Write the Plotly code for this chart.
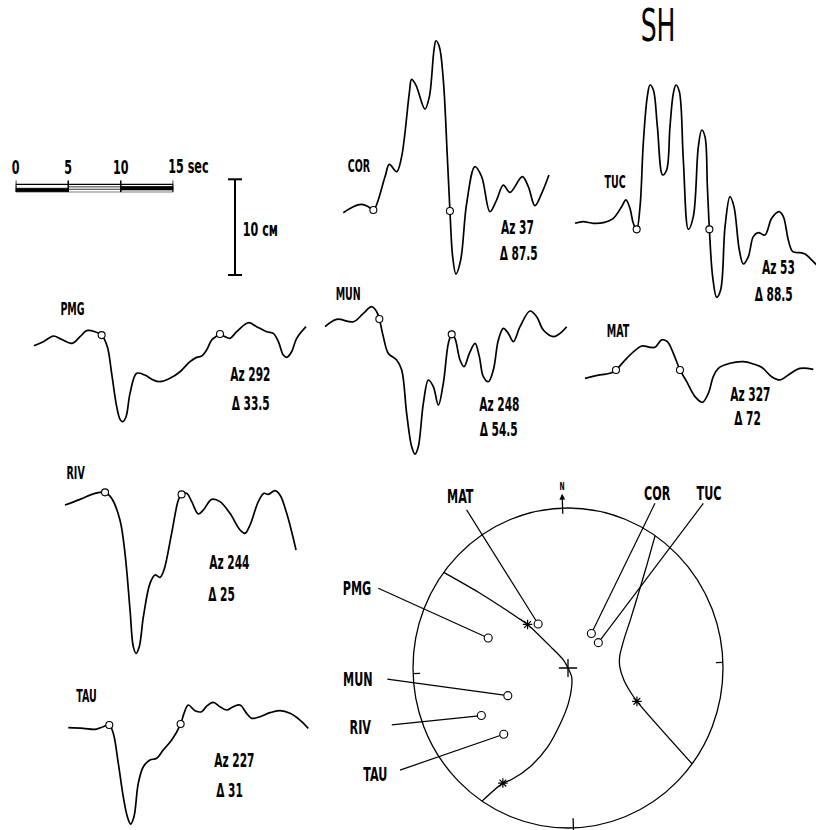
import numpy as np
import plotly.graph_objects as go

W, H = 816, 830
PX_PER_SEC = 157.6 / 15.0   # length of the 15 s time bar
PX_PER_CM = 95.7 / 10.0     # length of the 10 cm amplitude bar

FONT = "DejaVu Sans Condensed, Liberation Sans Narrow, DejaVu Sans, sans-serif"
INK = "black"
TEXT_SQUEEZE = 0.62         # narrow lettering: horizontal compression of all text

# ---------------------------------------------------------------- data
stations = ["COR", "TUC", "PMG", "MUN", "MAT", "RIV", "TAU"]
azimuth = [37, 53, 292, 248, 327, 244, 227]          # degrees
delta = [87.5, 88.5, 33.5, 54.5, 72, 25, 31]          # epicentral distance, degrees
proj_radius = [0.263, 0.252, 0.548, 0.425, 0.336, 0.633, 0.586]  # radius on focal sphere

# SH seismograms: time (s) and amplitude (cm); *_marks are picked times (open circles)
cor_t = [0, 0.95, 1.74, 2.38, 2.86, 3.97, 4.38, 5.08, 5.55, 6.28, 6.50, 6.91, 7.77, 8.19, 8.63,
         8.82, 9.14, 9.52, 9.90, 10.15, 10.41, 10.72, 11.17, 11.74, 12.53, 13.17, 13.96, 14.59,
         15.23, 15.86, 17.04, 17.61, 18.24, 18.88, 19.57]
cor_a = [0, 0.63, 0.87, 0.63, 0.28, 3.76, 5.05, 4.28, 5.85, 12.47, 13.93, 13.34, 10.83, 12.12,
         17.00, 17.97, 17.35, 13.86, 5.85, 0.17, -4.60, -6.41, -4.95, 0.98, 4.81, 3.76, 0.10,
         1.32, 2.89, 2.12, 3.76, 2.72, 0.73, 2.02, 3.94]
cor_marks = [2.86, 10.15]

tuc_t = [0, 0.79, 1.74, 2.70, 3.65, 4.44, 4.85, 5.23, 5.55, 5.87, 6.19, 6.50, 6.88, 7.14, 7.46,
         7.84, 8.34, 8.72, 9.04, 9.36, 9.61, 9.93, 10.31, 10.79, 11.26, 11.74, 12.06, 12.37,
         12.60, 12.79, 13.10, 13.48, 13.86, 14.28, 14.75, 15.13, 15.64, 16.02, 16.50, 16.97,
         17.45, 18.08, 18.72, 19.42, 19.83, 20.30, 20.72, 21.42, 21.89, 22.37, 23.00]
tuc_a = [0, 0.17, 0, 0.07, 0.52, 1.74, 2.44, 1.57, 0, -0.63, 1.74, 8.36, 13.24, 14.45, 13.93,
         10.10, 5.05, 5.57, 10.10, 13.58, 14.45, 13.76, 6.62, -0.63, 0.70, 8.01, 9.75, 9.06,
         3.83, -0.63, -5.57, -7.73, -6.97, -0.35, 2.79, 1.74, -2.79, -4.25, -3.48, -1.39,
         -0.98, -1.22, 0.52, 1.22, 0.70, -1.74, -2.96, -3.07, -3.20, -3.66, -4.35]
tuc_marks = [5.87, 12.79]

pmg_t = [0, 0.89, 1.84, 2.63, 3.59, 4.38, 5.01, 5.81, 6.44, 6.98, 7.39, 7.87, 8.19, 8.44, 8.76,
         9.14, 9.77, 10.56, 11.36, 11.99, 12.94, 13.90, 14.85, 15.48, 15.96, 16.43, 16.91,
         17.39, 17.70, 18.18, 18.65, 19.29, 20.40, 21.19, 22.14, 22.78, 23.26, 23.73, 24.05,
         24.52, 25.00, 25.89]
pmg_a = [0, 0.42, 1.01, 0.66, 0.24, 0.94, 1.57, 1.46, 1.11, -0.10, -2.89, -6.37, -7.70, -7.94,
         -7.42, -4.98, -2.89, -3.07, -3.59, -3.76, -3.41, -2.72, -1.67, -1.22, -1.08, -0.45,
         0.59, 1.01, 1.22, 0.94, 0.77, 1.46, 2.40, 1.99, 1.46, 1.29, 0.42, -0.98, -1.22,
         -0.63, 0.77, 1.99]
pmg_marks = [6.44, 17.70]

mun_t = [0, 1.11, 2.70, 3.65, 4.44, 4.92, 5.17, 5.55, 6.03, 6.82, 7.30, 7.77, 8.25, 8.57, 8.88,
         9.36, 9.84, 10.31, 10.79, 11.26, 11.74, 12.06, 12.37, 12.85, 13.23, 13.74, 14.28,
         14.69, 15.07, 15.55, 16.02, 16.50, 16.97, 17.45, 17.93, 18.56, 19.51, 20.15, 20.78,
         21.73, 22.37, 23.00]
mun_a = [0, 0.77, 0.52, 1.39, 2.09, 1.57, 0.80, -1.04, -2.79, -3.48, -4.53, -9.06, -12.54,
         -13.31, -12.54, -8.01, -5.57, -6.27, -8.19, -5.92, -1.74, -0.80, -1.22, -3.48, -4.18,
         -2.79, -1.74, -3.13, -5.22, -5.75, -4.53, -1.39, -0.17, -0.70, -1.57, 0, 1.64, 1.04,
         -0.35, -1.04, -0.70, 0]
mun_marks = [5.17, 12.06]

mat_t = [0, 1.43, 2.38, 2.95, 3.97, 5.39, 6.19, 6.66, 7.30, 7.84, 8.41, 9.04, 9.68, 10.47,
         11.17, 11.74, 12.21, 12.69, 13.80, 15.07, 16.02, 16.81, 17.77, 18.56, 19.35, 20.46,
         21.73]
mat_a = [0, 0.35, 0.52, 0.87, 2.09, 3.38, 3.24, 3.24, 4.01, 3.83, 2.61, 0.87, -0.35, -1.92,
         -2.51, -1.57, 0.17, 1.04, 1.57, 1.74, 1.50, 1.15, 0.17, -0.17, 0.35, 1.04, 0.94]
mat_marks = [2.95, 9.04]

riv_t = [0, 1.43, 2.86, 3.81, 4.44, 5.23, 5.71, 6.19, 6.50, 6.76, 7.07, 7.46, 8.09, 8.57, 9.04,
         9.42, 10.15, 10.79, 11.10, 11.58, 12.06, 12.69, 13.17, 13.96, 14.75, 15.70, 16.66,
         17.13, 17.61, 18.40, 18.94, 19.35, 19.99, 20.46, 21.10, 21.99]
riv_a = [0, 0.59, 1.22, 1.32, 0.70, -1.57, -5.05, -10.97, -14.80, -15.50, -14.80, -11.67,
         -8.19, -7.31, -7.56, -6.79, -2.96, 0.52, 1.11, 1.22, 0.35, -0.94, -0.52, 0.59, 0.35,
         -0.87, -2.61, -2.96, -2.09, 0.35, 1.22, 1.11, 1.50, 1.04, -0.87, -4.70]
riv_marks = [3.81, 11.10]

tau_t = [0, 1.43, 2.54, 3.33, 3.90, 4.28, 4.76, 5.23, 5.62, 5.93, 6.25, 6.66, 7.14, 7.77, 8.41,
         9.04, 9.84, 10.69, 11.01, 11.42, 12.06, 12.69, 13.17, 13.80, 14.44, 15.07, 15.70,
         16.34, 16.97, 17.45, 18.24, 19.19, 20.15, 21.10, 22.05, 22.84]
tau_a = [0, -0.07, -0.17, 0.10, 0.28, -0.59, -3.73, -7.21, -9.30, -10.07, -9.30, -5.82, -4.08,
         -3.38, -3.20, -2.33, -1.29, 0.38, 1.50, 2.37, 1.78, 1.67, 2.26, 2.65, 2.19, 1.85,
         2.19, 2.37, 1.50, 0.98, 1.15, 1.57, 1.78, 1.50, 0.80, -0.07]
tau_marks = [3.90, 10.69]

waveforms = {
    "COR": (cor_t, cor_a, cor_marks),
    "TUC": (tuc_t, tuc_a, tuc_marks),
    "PMG": (pmg_t, pmg_a, pmg_marks),
    "MUN": (mun_t, mun_a, mun_marks),
    "MAT": (mat_t, mat_a, mat_marks),
    "RIV": (riv_t, riv_a, riv_marks),
    "TAU": (tau_t, tau_a, tau_marks),
}

# SH nodal lines on the focal sphere: azimuth (deg) and projected radius
nodal_a_az = [308.7, 311.3, 316.1, 318.2, 321.8, 331.6, 0, 158.9, 170.8, 181.5, 190.2, 197.1,
              203.4, 209.7, 212.3, 215.7]
nodal_a_r = [1.0, 0.747, 0.452, 0.377, 0.177, 0.059, 0.0, 0.060, 0.121, 0.223, 0.354, 0.516,
             0.659, 0.789, 0.833, 1.0]
nodal_b_az = [36.2, 40.4, 46.0, 55.0, 65.8, 79.9, 90.6, 103.9, 112.4, 117.1, 128.8]
nodal_b_r = [1.0, 0.818, 0.657, 0.505, 0.402, 0.341, 0.334, 0.369, 0.430, 0.491, 1.0]
axis_pt_az = [318.2, 212.3, 117.1]     # asterisks on the nodal lines
axis_pt_r = [0.377, 0.833, 0.491]

time_ticks = [0, 5, 10, 15]
time_unit = "sec"
amp_bar = [0, 10]

# ---------------------------------------------------------------- page layout (pixels)
PANEL_ORIGIN = {"COR": (343.3, 212.7), "TUC": (575.0, 223.3), "PMG": (34.0, 345.7),
                "MUN": (325.0, 326.7), "MAT": (585.0, 378.3), "RIV": (65.0, 505.0),
                "TAU": (68.3, 727.7)}
PANEL_LABEL = {"COR": (359, 165.5), "TUC": (614.5, 181.7), "PMG": (72, 309),
               "MUN": (347.5, 294), "MAT": (618.3, 331), "RIV": (75.8, 472.5),
               "TAU": (86.7, 696)}
# centres of the "Az" and "Δ" lines
PANEL_NOTE = {"COR": (517.3, 226.7, 518.0, 252.5), "TUC": (778.5, 266.7, 773.0, 294),
              "PMG": (250.0, 374, 250.8, 402.5), "MUN": (499.2, 404, 498.3, 429),
              "MAT": (750.8, 394, 747.5, 418), "RIV": (229.5, 561.7, 221.7, 594),
              "TAU": (235.0, 760, 229.5, 790)}
SPHERE_CENTER = (568.0, 668.0)
SPHERE_RX, SPHERE_RY = 155.0, 160.0
NORTH_TILT = -2.0
SPHERE_LABEL = {"MAT": (460.7, 496), "COR": (656.7, 492.5), "TUC": (708.8, 492.5),
                "PMG": (356.7, 587.5), "MUN": (358, 679), "RIV": (360.5, 727),
                "TAU": (375.8, 774)}
LEADER_START = {"MAT": (-0.654, 0.988), "COR": (0.561, 1.029), "TUC": (0.873, 1.029),
                "PMG": (-1.224, 0.498), "MUN": (-1.166, -0.069), "RIV": (-1.137, -0.356),
                "TAU": (-1.084, -0.638)}


def paper(px, py):
    return px / W, 1 - py / H


def label(px, py, text, size, bold=True):
    x, y = paper(px, py)
    return dict(x=x, y=y, xref="paper", yref="paper", text=text, showarrow=False,
                xanchor="center", yanchor="middle",
                font=dict(family=FONT, size=size, color=INK,
                          weight="bold" if bold else "normal"))


layout_axes = {}


def add_axes(n, ox, oy, sx, sy):
    """Full-page overlay axes whose origin sits at pixel (ox, oy)."""
    key = "" if n == 1 else str(n)
    xa = dict(range=[-ox / sx, (W - ox) / sx], visible=False, showgrid=False, zeroline=False,
              automargin=False)
    ya = dict(range=[-(H - oy) / sy, oy / sy], visible=False, showgrid=False, zeroline=False,
              automargin=False)
    if n > 1:
        xa["overlaying"] = "x"
        ya["overlaying"] = "y"
        xa["anchor"] = "y" + key
        ya["anchor"] = "x" + key
    layout_axes["xaxis" + key] = xa
    layout_axes["yaxis" + key] = ya
    return "x" + key, "y" + key


fig = go.Figure()
annotations = []

# ---------------------------------------------------------------- seismograms
for i, name in enumerate(stations):
    t, a, marks = waveforms[name]
    xr, yr = add_axes(i + 1, *PANEL_ORIGIN[name], PX_PER_SEC, PX_PER_CM)
    fig.add_trace(go.Scatter(x=t, y=a, xaxis=xr, yaxis=yr, mode="lines",
                             line=dict(color=INK, width=1.7, shape="spline", smoothing=1.0),
                             hoverinfo="skip"))
    fig.add_trace(go.Scatter(x=marks, y=np.interp(marks, t, a), xaxis=xr, yaxis=yr,
                             mode="markers", hoverinfo="skip",
                             marker=dict(symbol="circle", size=7, color="white",
                                         line=dict(color=INK, width=1.1))))
    annotations.append(label(*PANEL_LABEL[name], name, 17))
    xa_, ya_, xd_, yd_ = PANEL_NOTE[name]
    annotations.append(label(xa_, ya_, f"Az {azimuth[i]}", 19))
    annotations.append(label(xd_, yd_, f"\u0394 {delta[i]:g}", 19))

# ---------------------------------------------------------------- focal sphere
sx_, sy_ = add_axes(9, *SPHERE_CENTER, SPHERE_RX, SPHERE_RY)


def project(az, r):
    ang = np.radians(np.asarray(az, float) + NORTH_TILT)
    r = np.asarray(r, float)
    return r * np.sin(ang), r * np.cos(ang)


shapes = [dict(type="circle", xref=sx_, yref=sy_, x0=-1, y0=-1, x1=1, y1=1,
               line=dict(color=INK, width=1.3))]

for az_list, r_list in ((nodal_a_az, nodal_a_r), (nodal_b_az, nodal_b_r)):
    ex, ny = project(az_list, r_list)
    fig.add_trace(go.Scatter(x=ex, y=ny, xaxis=sx_, yaxis=sy_, mode="lines", hoverinfo="skip",
                             line=dict(color=INK, width=1.3, shape="spline", smoothing=0.8)))

ex, ny = project(axis_pt_az, axis_pt_r)
fig.add_trace(go.Scatter(x=ex, y=ny, xaxis=sx_, yaxis=sy_, mode="markers", hoverinfo="skip",
                         marker=dict(symbol="asterisk-open", size=8, color=INK,
                                     line=dict(color=INK, width=1.2))))
fig.add_trace(go.Scatter(x=[0], y=[0], xaxis=sx_, yaxis=sy_, mode="markers", hoverinfo="skip",
                         marker=dict(symbol="cross-thin-open", size=13, color=INK,
                                     line=dict(color=INK, width=1.3))))

# rim ticks (E, S, W) and north arrow
for az_t, r0, r1 in ((90, 0.955, 1.0), (180, 0.94, 1.03), (270, 0.955, 1.0)):
    ex, ny = project([az_t, az_t], [r0, r1])
    fig.add_trace(go.Scatter(x=ex, y=ny, xaxis=sx_, yaxis=sy_, mode="lines", hoverinfo="skip",
                             line=dict(color=INK, width=1.3)))
(tx0, tx1), (ty0, ty1) = project([0, 0], [0.955, 1.09])
annotations.append(dict(x=tx1, y=ty1, ax=tx0, ay=ty0, xref=sx_, yref=sy_, axref=sx_, ayref=sy_,
                        text="", showarrow=True, arrowhead=2, arrowsize=0.9, arrowwidth=1.3,
                        arrowcolor=INK, standoff=0, startstandoff=0))
(nx_,), (ny_,) = project([0], [1.135])
annotations.append(dict(x=nx_, y=ny_, xref=sx_, yref=sy_, text="N", showarrow=False,
                        font=dict(family=FONT, size=11, color=INK, weight="bold")))

# stations with leader lines to their labels
st_x, st_y = project(azimuth, proj_radius)
for i, name in enumerate(stations):
    u0, v0 = LEADER_START[name]
    fig.add_trace(go.Scatter(x=[u0, st_x[i]], y=[v0, st_y[i]], xaxis=sx_, yaxis=sy_,
                             mode="lines", hoverinfo="skip",
                             line=dict(color=INK, width=1.2)))
    annotations.append(label(*SPHERE_LABEL[name], name, 20))
fig.add_trace(go.Scatter(x=st_x, y=st_y, xaxis=sx_, yaxis=sy_, mode="markers", hoverinfo="skip",
                         marker=dict(symbol="circle", size=8, color="white",
                                     line=dict(color=INK, width=1.1))))

# ---------------------------------------------------------------- amplitude scale (10 cm)
ax_, ay_ = add_axes(11, 235.0, 275.0, PX_PER_SEC, PX_PER_CM)
fig.add_trace(go.Scatter(x=[0, 0], y=amp_bar, xaxis=ax_, yaxis=ay_, mode="lines+markers",
                         hoverinfo="skip", line=dict(color=INK, width=2),
                         marker=dict(symbol="line-ew", size=10, color=INK,
                                     line=dict(color=INK, width=2))))
annotations.append(label(260.8, 229, "10 см", 20))

# ---------------------------------------------------------------- time scale (15 s)
# bar body spans y 0..1 (8 px); the ticks rise 4 px above it
bar_left, bar_top, bar_bottom, tick_top = 15.7, 184.3, 192.3, 180.3
bar_px = bar_bottom - bar_top
# the last tick carries the unit, written as one label after the axis
tick_text = [str(v) for v in time_ticks[:-1]] + [""]
layout_axes["xaxis10"] = dict(
    domain=[bar_left / W, (bar_left + 15 * PX_PER_SEC) / W], range=[0, 15], anchor="free",
    position=1 - bar_top / H, side="top", showline=True, linecolor=INK, linewidth=1.2,
    ticks="", tickvals=time_ticks, ticktext=tick_text, automargin=False,
    tickfont=dict(family=FONT, size=20, color=INK, weight="bold"), showgrid=False,
    zeroline=False, ticklabelstandoff=2)
layout_axes["yaxis10"] = dict(domain=[1 - bar_bottom / H, 1 - tick_top / H],
                              range=[0, (bar_bottom - tick_top) / bar_px], automargin=False,
                              anchor="x10", visible=False, showgrid=False, zeroline=False)
fig.add_trace(go.Scatter(x=[0, 15, 15, 0, 0], y=[0, 0, 1, 1, 0], xaxis="x10", yaxis="y10",
                         mode="lines", hoverinfo="skip", line=dict(color=INK, width=1.2)))
fig.add_trace(go.Scatter(x=[0, 5, 5, 0, 0], y=[0.08, 0.08, 0.5, 0.5, 0.08], xaxis="x10",
                         yaxis="y10", mode="lines", fill="toself", fillcolor=INK,
                         hoverinfo="skip", line=dict(color=INK, width=0.8)))
fig.add_trace(go.Scatter(x=[10, 15, 15, 10, 10], y=[0.3, 0.3, 0.72, 0.72, 0.3], xaxis="x10",
                         yaxis="y10", mode="lines", fill="toself", fillcolor=INK,
                         hoverinfo="skip", line=dict(color=INK, width=0.8)))
for yy in (0.38, 0.68):
    fig.add_trace(go.Scatter(x=[5, 10], y=[yy, yy], xaxis="x10", yaxis="y10", mode="lines",
                             hoverinfo="skip", line=dict(color=INK, width=0.8)))
for tv in time_ticks:
    fig.add_trace(go.Scatter(x=[tv, tv], y=[0, (bar_bottom - tick_top) / bar_px], xaxis="x10",
                             yaxis="y10", mode="lines", hoverinfo="skip",
                             line=dict(color=INK, width=1.5)))
annotations.append(label(188.5, 166, f"{time_ticks[-1]} {time_unit}", 20))

# ---------------------------------------------------------------- title
annotations.append(label(658, 26, "SH", 45, bold=False))

fig.update_layout(width=W, height=H, autosize=False,
                  margin=dict(l=0, r=0, t=0, b=0, pad=0, autoexpand=False),
                  paper_bgcolor="white", plot_bgcolor="rgba(0,0,0,0)", showlegend=False,
                  annotations=annotations, shapes=shapes, hovermode=False, **layout_axes)

# narrow the lettering in place (each label keeps its centre)
squeeze_js = """
var gd = document.getElementById('{plot_id}');
gd.querySelectorAll('text.annotation-text, g[class$="tick"] > text').forEach(function (t) {
  var w = t.getComputedTextLength();
  if (w > 0) {
    t.setAttribute('textLength', (w * %s).toFixed(2));
    t.setAttribute('lengthAdjust', 'spacingAndGlyphs');
  }
});
""" % TEXT_SQUEEZE

fig.write_html("out.html", config={"displayModeBar": False}, post_script=squeeze_js)
